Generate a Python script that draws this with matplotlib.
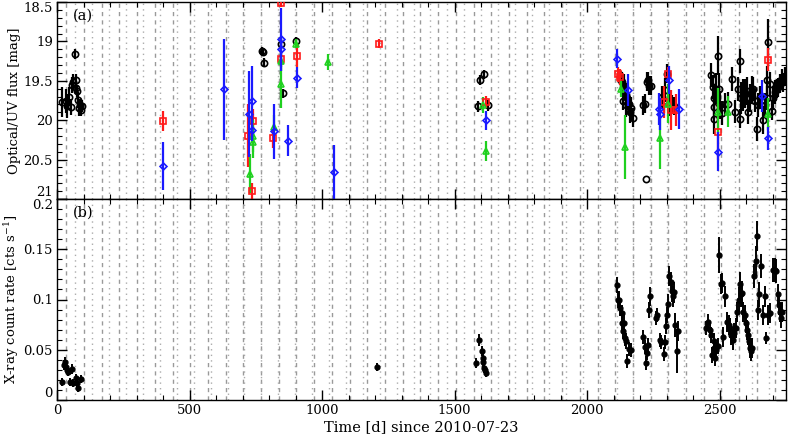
#/usr/bin/env python

#%% Preamble
import numpy as np
import matplotlib
matplotlib.use('Agg')
import matplotlib.pyplot as plt
from matplotlib.ticker import MultipleLocator

plt.rcParams['font.family'] = ['DejaVu Serif']
plt.rcParams['mathtext.fontset'] = 'dejavuserif'

#%% Optical/UV data (days since 2010-07-23, mag, mag error)
blk_t = [20, 33, 38, 44, 52, 56, 59, 67, 71, 73, 76, 79, 83, 88, 90, 93,
         772, 777, 782, 844, 851, 902, 1587, 1595, 1610, 1625,
         2126, 2133, 2139, 2145, 2152, 2158, 2164, 2171, 2136, 2148, 2160,
         2212, 2218, 2226, 2230, 2234, 2240, 2221,
         2282, 2288, 2301, 2310, 2320, 2326, 2295,
         2466, 2473, 2477, 2479, 2485, 2492, 2496, 2500, 2477, 2509, 2520,
         2531, 2546, 2556, 2569, 2575, 2578, 2582, 2588, 2594, 2601, 2607,
         2613, 2620, 2626, 2632, 2641, 2645, 2651, 2664, 2670, 2677, 2680,
         2683, 2689, 2696, 2702, 2708, 2715, 2721, 2727, 2734, 2740, 2746]
blk_m = [19.77, 19.76, 19.82, 19.70, 19.83, 19.55, 19.51, 19.16, 19.49, 19.59,
         19.63, 19.74, 19.85, 19.81, 19.87, 19.82,
         19.12, 19.14, 19.27, 19.03, 19.66, 18.99, 19.82, 19.49, 19.42, 19.81,
         19.49, 19.51, 19.56, 19.68, 19.72, 19.79, 19.85, 19.97, 19.75, 19.81, 19.89,
         19.81, 19.79, 19.51, 19.49, 19.56, 19.56, 20.75,
         19.71, 19.76, 19.41, 19.80, 19.80, 19.82, 19.62,
         19.43, 19.58, 19.72, 19.83, 19.60, 19.18, 19.60, 19.81, 19.99, 19.91, 19.80,
         19.79, 19.48, 19.89, 19.60, 19.25, 19.98, 19.72, 19.68, 19.66, 19.63, 19.90,
         19.72, 19.62, 19.60, 19.75, 20.11, 19.81, 19.71, 20.00, 19.81, 19.72, 19.49,
         19.01, 19.54, 19.88, 19.72, 19.64, 19.60, 19.58, 19.54, 19.47, 19.52, 19.45]
blk_e = [0.19, 0.15, 0.15, 0.12, 0.10, 0.10, 0.10, 0.06, 0.08, 0.08,
         0.08, 0.10, 0.10, 0.08, 0.08, 0.08,
         0.05, 0.05, 0.06, 0.06, 0.06, 0.05, 0.07, 0.06, 0.06, 0.07,
         0.12, 0.12, 0.15, 0.15, 0.15, 0.15, 0.15, 0.12, 0.12, 0.15, 0.15,
         0.12, 0.12, 0.12, 0.10, 0.12, 0.12, 0.0,
         0.15, 0.15, 0.12, 0.15, 0.12, 0.12, 0.15,
         0.15, 0.15, 0.18, 0.15, 0.20, 0.25, 0.20, 0.18, 0.18, 0.15, 0.15,
         0.15, 0.15, 0.15, 0.15, 0.15, 0.12, 0.20, 0.20, 0.18, 0.18, 0.15,
         0.18, 0.18, 0.15, 0.15, 0.15, 0.15, 0.15, 0.18, 0.15, 0.15, 0.18,
         0.30, 0.15, 0.12, 0.15, 0.15, 0.12, 0.12, 0.12, 0.12, 0.12, 0.12]

red_t = [398, 722, 734, 740, 813, 844, 844, 907, 1213, 1617,
         2118, 2122, 2289, 2305, 2315, 2334, 2492, 2683]
red_m = [20.01, 20.20, 20.90, 20.01, 20.23, 18.51, 19.22, 19.18, 19.03, 19.77,
         19.42, 19.45, 19.77, 19.42, 19.87, 19.87, 20.15, 19.23]
red_e = [0.13, 0.40, 0.10, 0.15, 0.12, 0.05, 0.10, 0.15, 0.06, 0.08,
         0.10, 0.10, 0.20, 0.10, 0.25, 0.20, 0.35, 0.15]

grn_t = [728, 738, 740, 817, 844, 846, 902, 1024, 1607, 1620,
         2126, 2143, 2275, 2304, 2492, 2533, 2683]
grn_m = [20.68, 20.28, 20.20, 20.08, 19.25, 19.54, 19.03, 19.26, 19.81, 20.39,
         19.60, 20.34, 20.22, 19.79, 19.89, 19.89, 19.92]
grn_e = [0.25, 0.20, 0.20, 0.15, 0.12, 0.30, 0.06, 0.10, 0.10, 0.13,
         0.10, 0.40, 0.40, 0.25, 0.30, 0.20, 0.20]

blu_t = [400, 631, 726, 734, 736, 817, 844, 844, 873, 907, 1046, 1617,
         2114, 2155, 2271, 2276, 2310, 2347, 2492, 2658, 2683]
blu_m = [20.58, 19.61, 19.92, 19.76, 20.12, 20.14, 18.97, 19.10, 20.26, 19.46,
         20.66, 20.00, 19.22, 19.62, 19.86, 19.92, 19.49, 19.86, 20.40, 19.69, 20.23]
blu_e = [0.30, 0.64, 0.55, 0.45, 0.15, 0.35, 0.40, 0.15, 0.20, 0.13,
         0.35, 0.12, 0.12, 0.20, 0.20, 0.20, 0.18, 0.25, 0.25, 0.20, 0.15]

#%% X-ray data (days, count rate, error)
xr_t = [17, 27, 31, 35, 38, 42, 48, 58, 62, 73, 76, 80, 91,
        1209, 1582, 1591, 1604, 1606, 1608, 1612, 1615, 1620,
        2111, 2117, 2120, 2124, 2130, 2133, 2135, 2139, 2142, 2146, 2152, 2158, 2166,
        2210, 2217, 2221, 2225, 2230, 2234, 2238,
        2260, 2265, 2273, 2280, 2288, 2292, 2298, 2302, 2306, 2310, 2316, 2321, 2325,
        2329, 2333, 2337, 2341,
        2448, 2454, 2462, 2467, 2472, 2477, 2480, 2484, 2487, 2492,
        2498, 2504, 2510, 2514, 2520, 2529, 2534, 2539, 2544, 2549, 2554, 2560, 2566,
        2572, 2576, 2581, 2585, 2589, 2594, 2598, 2602, 2606, 2610, 2614, 2618, 2622,
        2631, 2635, 2640, 2646, 2650, 2656, 2663, 2672, 2676, 2683, 2689,
        2700, 2709, 2713, 2718, 2722, 2726, 2731, 2735]
xr_r = [0.018, 0.035, 0.038, 0.033, 0.030, 0.028, 0.018, 0.031, 0.017, 0.022,
        0.017, 0.012, 0.021,
        0.033, 0.037, 0.060, 0.049, 0.042, 0.038, 0.032, 0.030, 0.027,
        0.114, 0.100, 0.100, 0.092, 0.077, 0.087, 0.069, 0.077, 0.062, 0.059,
        0.039, 0.051, 0.050,
        0.063, 0.053, 0.037, 0.047, 0.055, 0.090, 0.103,
        0.082, 0.085, 0.060, 0.058, 0.046, 0.058, 0.074, 0.085, 0.096, 0.123,
        0.117, 0.108, 0.103, 0.107, 0.075, 0.049, 0.069,
        0.072, 0.078, 0.070, 0.065, 0.045, 0.059, 0.052, 0.042, 0.050, 0.054,
        0.144, 0.115, 0.116, 0.063, 0.103, 0.078, 0.075, 0.072, 0.065, 0.060,
        0.067, 0.072, 0.088, 0.100, 0.115, 0.105, 0.106, 0.088, 0.085, 0.077,
        0.070, 0.065, 0.059, 0.052, 0.049, 0.052,
        0.123, 0.138, 0.163, 0.090, 0.105, 0.133, 0.085, 0.103, 0.062, 0.085,
        0.087, 0.129, 0.129, 0.128, 0.105, 0.095, 0.088, 0.082, 0.088]
xr_e = [0.004, 0.005, 0.005, 0.005, 0.004, 0.004, 0.004, 0.005, 0.004, 0.004,
        0.004, 0.004, 0.004,
        0.004, 0.005, 0.006, 0.005, 0.005, 0.005, 0.005, 0.004, 0.004,
        0.008, 0.008, 0.008, 0.008, 0.008, 0.008, 0.008, 0.008, 0.008, 0.008,
        0.007, 0.007, 0.007,
        0.007, 0.007, 0.007, 0.007, 0.007, 0.008, 0.009,
        0.007, 0.007, 0.007, 0.007, 0.007, 0.007, 0.008, 0.008, 0.009, 0.010,
        0.010, 0.010, 0.010, 0.010, 0.012, 0.022, 0.010,
        0.007, 0.008, 0.008, 0.008, 0.008, 0.008, 0.008, 0.008, 0.008, 0.008,
        0.018, 0.010, 0.010, 0.010, 0.010, 0.010, 0.010, 0.010, 0.010, 0.010,
        0.010, 0.010, 0.010, 0.012, 0.012, 0.012, 0.012, 0.010, 0.010, 0.010,
        0.010, 0.010, 0.010, 0.010, 0.010, 0.010,
        0.012, 0.015, 0.015, 0.010, 0.012, 0.012, 0.010, 0.010, 0.006, 0.010,
        0.010, 0.012, 0.012, 0.012, 0.010, 0.010, 0.010, 0.010, 0.010]

#%% Ephemeris markers (dashed / dotted vertical lines)
P_dash, T0_dash = 66.8, 35.0
P_dot, T0_dot = 63.8, 69.0
xmax = 2750
dash_lines = np.arange(T0_dash, xmax, P_dash)
dot_lines = np.arange(T0_dot, xmax, P_dot)

#%% Figure
W, H = 789, 437
fig = plt.figure(figsize=(W / 100, H / 100), dpi=100)
l, r = 57 / W, 786 / W
ax1 = fig.add_axes([l, 1 - 199 / H, r - l, 197 / H])
ax2 = fig.add_axes([l, 1 - 400 / H, r - l, 201 / H], sharex=ax1)

for ax in (ax1, ax2):
    for x in dash_lines:
        ax.axvline(x, color='#9a9a9a', lw=1.0, ls=(0, (3, 3)), zorder=0)
    for x in dot_lines:
        ax.axvline(x, color='#ababab', lw=1.0, ls=(0, (1, 3)), zorder=0)

ekw = dict(ls='none', capsize=0, elinewidth=1.6, mew=1.2, ms=4.5)
ax1.errorbar(blk_t, blk_m, yerr=blk_e, fmt='o', color='black', mfc='none', zorder=3, **ekw)
ax1.errorbar(red_t, red_m, yerr=red_e, fmt='s', color='#ff1a1a', mfc='none', zorder=4, **ekw)
ax1.errorbar(grn_t, grn_m, yerr=grn_e, fmt='^', color='#1fd01f', mfc='none', zorder=4, **ekw)
ax1.errorbar(blu_t, blu_m, yerr=blu_e, fmt='D', color='#1a1aff', mfc='none', zorder=5,
             ls='none', capsize=0, elinewidth=1.6, mew=1.2, ms=3.5)

ax2.errorbar(xr_t, xr_r, yerr=xr_e, xerr=3, fmt='o', color='black', ms=3.5,
             ls='none', capsize=0, elinewidth=1.4, zorder=3)

ax1.set_ylim(21.0, 18.5)
ax1.set_yticks([18.5, 19, 19.5, 20, 20.5, 21])
ax1.set_yticklabels(['18.5', '19', '19.5', '20', '20.5', '21'])
ax1.yaxis.set_minor_locator(MultipleLocator(0.1))
ax2.set_ylim(0, 0.2)
ax2.set_yticks([0, 0.05, 0.1, 0.15, 0.2])
ax2.set_yticklabels(['0', '0.05', '0.1', '0.15', '0.2'])
ax2.yaxis.set_minor_locator(MultipleLocator(0.01))

ax2.set_xlim(0, xmax)
ax2.xaxis.set_major_locator(MultipleLocator(500))
ax2.xaxis.set_minor_locator(MultipleLocator(100))
plt.setp(ax1.get_xticklabels(), visible=False)

for ax in (ax1, ax2):
    ax.tick_params(which='both', direction='in', top=True, right=True, labelsize=9.5, pad=3)
    ax.tick_params(which='major', length=7, width=1)
    ax.tick_params(which='minor', length=3.5, width=0.8)
    for s in ax.spines.values():
        s.set_linewidth(1.0)

# end labels pulled inside the panel
t1 = ax1.yaxis.get_major_ticks()
t1[0].label1.set_va('top')
t1[-1].label1.set_va('bottom')
t2 = ax2.yaxis.get_major_ticks()
t2[0].label1.set_va('bottom')
t2[-1].label1.set_va('top')

ax1.set_ylabel('Optical/UV flux [mag]', fontsize=9.5)
ax2.set_ylabel(r'X-ray count rate [cts s$^{-1}$]', fontsize=9.5)
ax2.set_xlabel('Time [d] since 2010-07-23', fontsize=10.5, labelpad=2)
ax1.yaxis.set_label_coords(-0.05, 0.5)
ax2.yaxis.set_label_coords(-0.05, 0.5)

ax1.text(0.022, 0.93, '(a)', transform=ax1.transAxes, fontsize=10.5, va='center')
ax2.text(0.022, 0.93, '(b)', transform=ax2.transAxes, fontsize=10.5, va='center')

fig.savefig('out.png', dpi=100)
